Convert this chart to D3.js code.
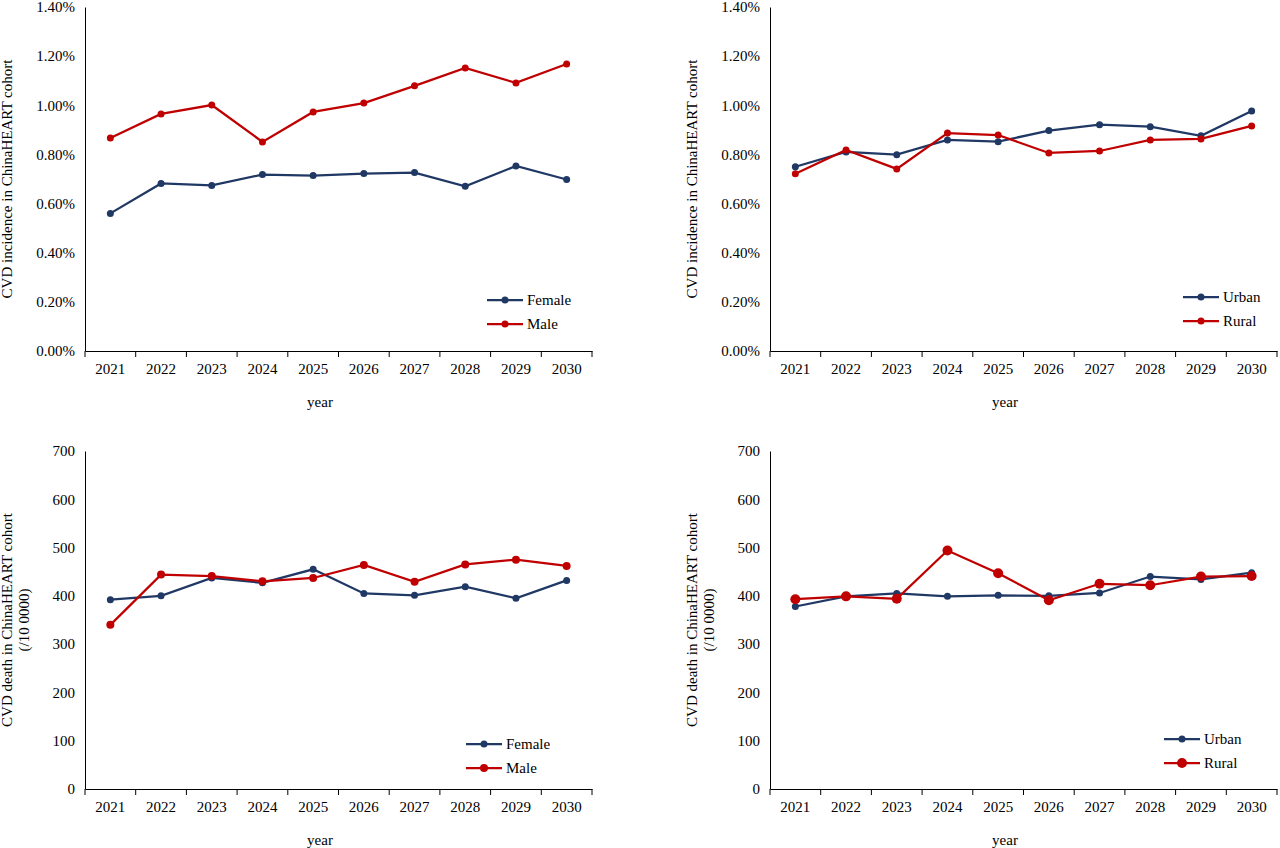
<!DOCTYPE html>
<html><head><meta charset="utf-8">
<script src="https://cdn.jsdelivr.net/npm/d3@7"></script>
<style>body{margin:0;background:#fff}svg text{font-family:"Liberation Serif","Times New Roman",serif !important}</style>
</head><body><div id="chart"></div>
<script>
const years = ["2021","2022","2023","2024","2025","2026","2027","2028","2029","2030"];
const incFemale = [0.560,0.682,0.674,0.718,0.714,0.722,0.726,0.670,0.753,0.698];
const incMale = [0.867,0.965,1.001,0.851,0.973,1.009,1.079,1.152,1.091,1.168];
const incUrban = [0.750,0.810,0.799,0.859,0.852,0.897,0.921,0.913,0.876,0.977];
const incRural = [0.721,0.818,0.741,0.887,0.879,0.806,0.814,0.859,0.863,0.916];
const deathFemale = [392,400,437,427,455,405,401,419,395,432];
const deathMale = [340,444,441,430,437,464,429,465,475,462];
const deathUrban = [378,399,405,399,401,400,406,440,434,448];
const deathRural = [393,399,394,494,447,391,425,422,440,441];
const pctTicks = [0,0.2,0.4,0.6,0.8,1.0,1.2,1.4];
const deathTicks = [0,100,200,300,400,500,600,700];

const navy = "#203864", red = "#C00000";
const FONT = "Liberation Serif, Times New Roman, serif";
const svg = d3.select("#chart").append("svg").attr("width",1280).attr("height",848);

const panels = [
  {x0:85, y0:7, y1:351, ticks:pctTicks, max:1.4, fmt:d=>d.toFixed(2)+"%", s:[["Female",incFemale,navy],["Male",incMale,red]],
   ylab:["CVD incidence in ChinaHEART cohort"], leg:[487,300], r:[3.5,3.5]},
  {x0:770, y0:7, y1:351, ticks:pctTicks, max:1.4, fmt:d=>d.toFixed(2)+"%", s:[["Urban",incUrban,navy],["Rural",incRural,red]],
   ylab:["CVD incidence in ChinaHEART cohort"], leg:[1183,297], r:[3.5,3.5]},
  {x0:85, y0:451, y1:789, ticks:deathTicks, max:700, fmt:d=>d, s:[["Female",deathFemale,navy],["Male",deathMale,red]],
   ylab:["CVD death in ChinaHEART cohort","(/10 0000)"], leg:[466,744], r:[3.5,4]},
  {x0:770, y0:451, y1:789, ticks:deathTicks, max:700, fmt:d=>d, s:[["Urban",deathUrban,navy],["Rural",deathRural,red]],
   ylab:["CVD death in ChinaHEART cohort","(/10 0000)"], leg:[1164,739], r:[3.5,5]}
];

panels.forEach(p => {
  const g = svg.append("g").attr("font-family",FONT);
  const x = d3.scaleBand().domain(years).range([p.x0, p.x0+507]);
  const y = d3.scaleLinear().domain([0,p.max]).range([p.y1,p.y0]);
  const ya = g.append("g").attr("transform",`translate(${p.x0},0)`)
    .call(d3.axisLeft(y).tickValues(p.ticks).tickFormat(p.fmt).tickSize(0).tickPadding(10));
  ya.attr("font-family",FONT);
  ya.select(".domain").attr("stroke","#000");
  ya.selectAll("text").attr("font-size",15).attr("fill","#000").attr("font-family",FONT);
  const xa = g.append("g").attr("transform",`translate(0,${p.y1})`)
    .call(d3.axisBottom(x).tickSize(0).tickPadding(12));
  xa.attr("font-family",FONT);
  xa.select(".domain").attr("stroke","#000");
  xa.selectAll("text").attr("font-size",15).attr("fill","#000").attr("font-family",FONT);
  g.selectAll(".tk").data(years.concat(["end"])).enter().append("line")
    .attr("x1",(d,i)=>p.x0+i*x.step()).attr("x2",(d,i)=>p.x0+i*x.step())
    .attr("y1",p.y1).attr("y2",p.y1+6).attr("stroke","#000");
  g.append("text").attr("x",p.x0+235).attr("y",p.y1+56).attr("text-anchor","middle").attr("font-size",15).text("year");
  const cy = (p.y0+p.y1)/2;
  p.ylab.forEach((t,i)=>{
    g.append("text").attr("transform",`translate(${p.x0-73+i*17},${cy}) rotate(-90)`)
      .attr("text-anchor","middle").attr("font-size",15).text(t);
  });
  const line = d3.line().x((d,i)=>x(years[i])+x.bandwidth()/2).y(d=>y(d));
  p.s.forEach(([name,vals,col],k) => {
    g.append("path").datum(vals).attr("d",line).attr("fill","none").attr("stroke",col).attr("stroke-width",2.25);
    g.selectAll(".pt"+k).data(vals).enter().append("circle")
      .attr("cx",(d,i)=>x(years[i])+x.bandwidth()/2).attr("cy",d=>y(d)).attr("r",p.r[k]).attr("fill",col);
    const ly = p.leg[1]+k*24;
    g.append("line").attr("x1",p.leg[0]).attr("x2",p.leg[0]+36).attr("y1",ly).attr("y2",ly).attr("stroke",col).attr("stroke-width",2.25);
    g.append("circle").attr("cx",p.leg[0]+18).attr("cy",ly).attr("r",p.r[k]).attr("fill",col);
    g.append("text").attr("x",p.leg[0]+40).attr("y",ly+5).attr("font-size",15).text(name);
  });
});
</script></body></html>
